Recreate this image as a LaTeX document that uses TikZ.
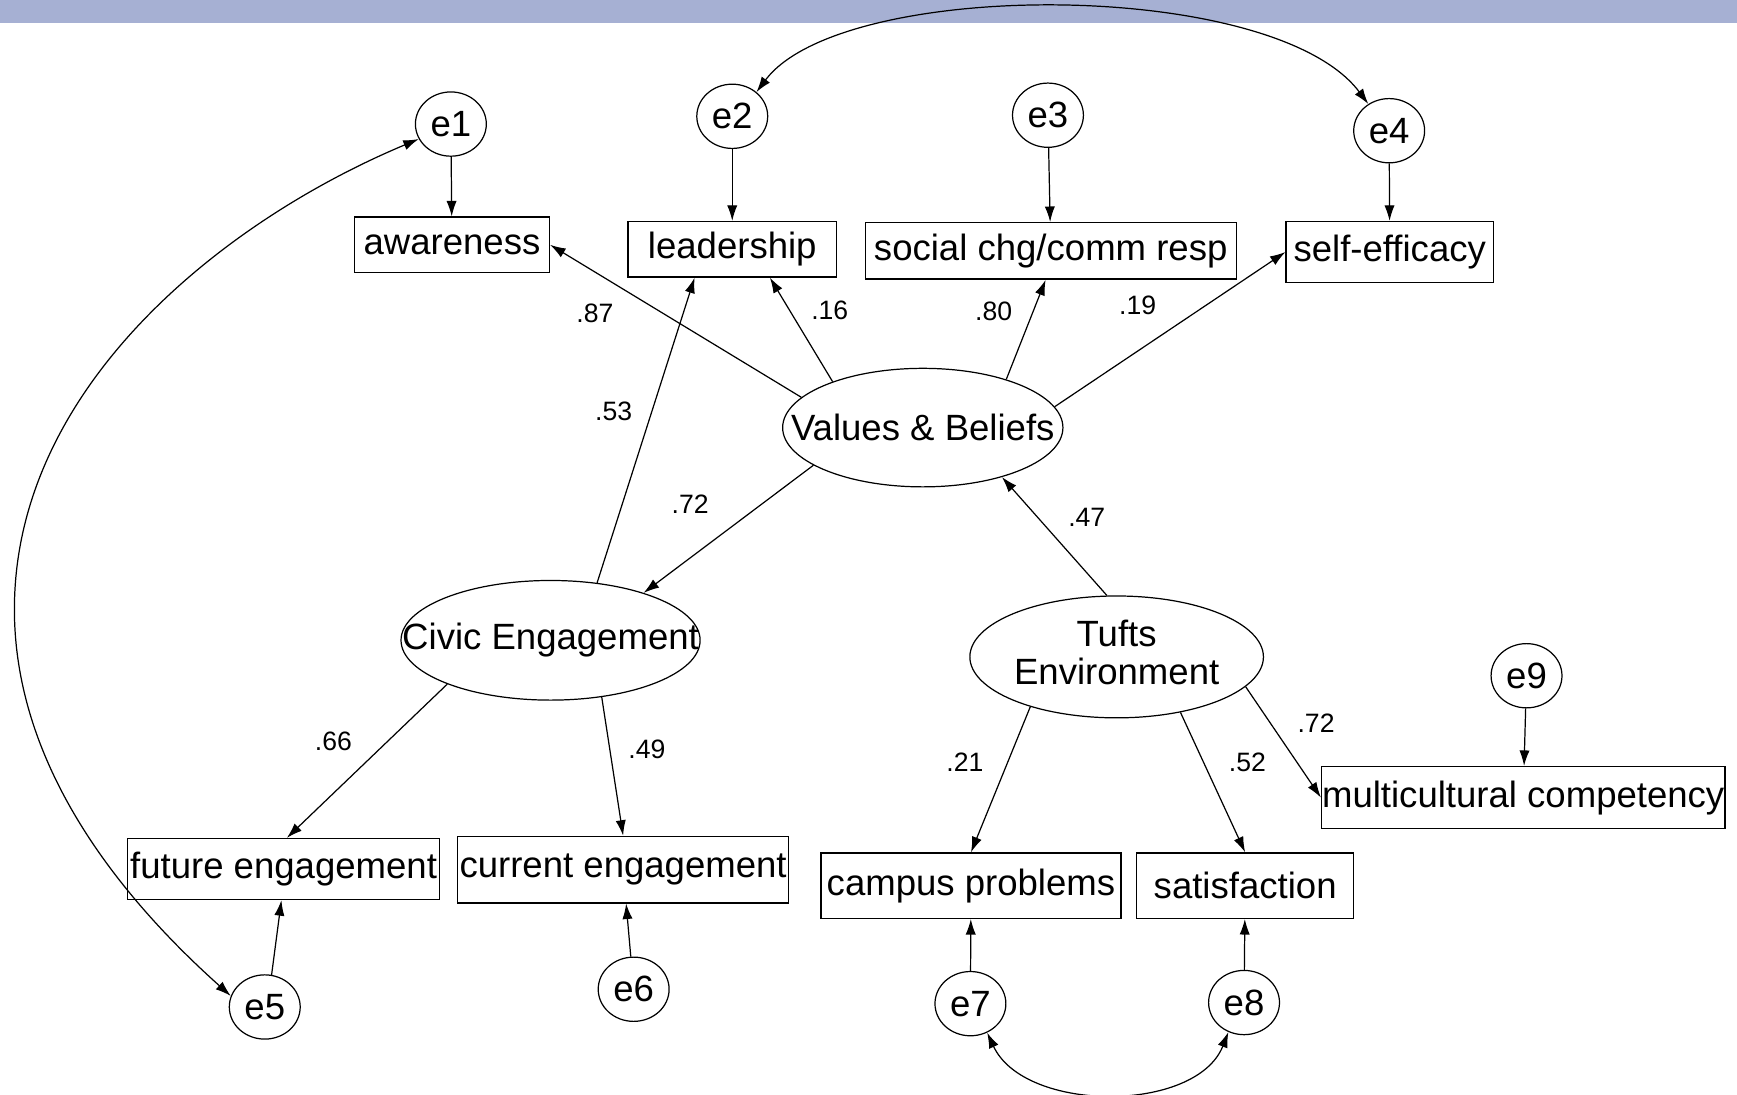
\documentclass[tikz,border=0pt]{standalone}
\usepackage{fontspec}
\setmainfont{Liberation Sans}
\usetikzlibrary{shapes.geometric,arrows.meta}
\definecolor{band}{HTML}{A6B0D3}
\begin{document}
\begin{tikzpicture}[x=0.5pt,y=-0.5pt,
  every node/.style={font=\fontsize{16.5}{19}\selectfont, inner sep=0pt},
  obs/.style={draw, rectangle, line width=0.6pt},
  lat/.style={draw, ellipse, line width=0.55pt},
  err/.style={draw, ellipse, minimum width=32pt, minimum height=29pt, line width=0.55pt},
  coef/.style={font=\fontsize{12}{14}\selectfont},
  arr/.style={-{Latex[length=7pt,width=4.6pt]}, line width=0.55pt},
  dbl/.style={{Latex[length=7pt,width=4.6pt]}-{Latex[length=7pt,width=4.6pt]}, line width=0.55pt}]
\useasboundingbox (0,0) rectangle (1568,988);
\fill[white] (0,0) rectangle (1568,988);
\fill[band] (0,0) rectangle (1568,21);

% observed variables
\node[obs, minimum width=88pt, minimum height=25pt] (aw) at (408,221) {awareness};
\node[obs, minimum width=94pt, minimum height=25pt] (ld) at (661,225) {leadership};
\node[obs, minimum width=167.5pt, minimum height=25.5pt] (soc) at (948.5,226.5) {social chg/comm resp};
\node[obs, minimum width=93.5pt, minimum height=27.5pt] (se) at (1254.5,227.5) {self-efficacy};
\node[obs, minimum width=141pt, minimum height=27.5pt] (fe) at (256,784.5) {future engagement};
\node[obs, minimum width=149.5pt, minimum height=30pt] (ce) at (562.5,785) {current engagement};
\node[obs, minimum width=135.5pt, minimum height=29.5pt] (cp) at (876.5,799.5) {campus problems};
\node[obs, minimum width=98pt, minimum height=29.5pt] (sat) at (1124,799.5) {satisfaction};
\node[obs, minimum width=182pt, minimum height=28pt] (mc) at (1375,720) {multicultural competency};

% latent variables
\node[lat, minimum width=126.5pt, minimum height=53.5pt] (VB) at (833,386) {\makebox[0pt]{Values \& Beliefs}};
\node[lat, minimum width=135pt, minimum height=54pt] (CE) at (497,578) {\makebox[0pt]{Civic Engagement}};
\node[lat, minimum width=132.5pt, minimum height=55pt] (TE) at (1008,593) {\makebox[0pt]{\raisebox{-2pt}{\begin{tabular}{@{}c@{}}Tufts\\[-2pt]Environment\end{tabular}}}};

% error terms
\node[err] (e1) at (407,112) {e1};
\node[err] (e2) at (661,105) {e2};
\node[err] (e3) at (946,104) {e3};
\node[err] (e4) at (1254,118) {e4};
\node[err] (e5) at (239,909) {e5};
\node[err] (e6) at (572,893) {e6};
\node[err] (e7) at (876,906) {e7};
\node[err] (e8) at (1123,905) {e8};
\node[err] (e9) at (1378,610) {e9};

% error arrows
\draw[arr] (e1) -- (aw);
\draw[arr] (e2) -- (ld);
\draw[arr] (e3) -- (soc);
\draw[arr] (e4) -- (se);
\draw[arr] (e9) -- (mc);
\draw[arr] (e5.78) -- (fe.-94);
\draw[arr] (e6) -- (ce);
\draw[arr] (e7) -- (cp);
\draw[arr] (e8) -- (sat);

% structural paths
\draw[arr] (VB.166) -- (aw.east);
\draw[arr] (VB.153) -- (ld.-37);
\draw[arr] (VB.30) -- (soc.-100);
\draw[arr] (VB.9) -- (se.west);
\draw[arr] (CE.51) -- (ld.-143);
\draw[arr] (VB.-161) -- (CE.27);
\draw[arr] (TE.99) -- (VB.-32);
\draw[arr] (CE.-157) -- (fe.84);
\draw[arr] (CE.-48) -- (ce.north);
\draw[arr] (TE.-150) -- (cp.north);
\draw[arr] (TE.-41) -- (sat.north);
\draw[arr] (TE.-13) -- (mc.west);

% covariances
\draw[dbl] (e2.45) .. controls (760,-20) and (1150,-20) .. (e4.128);
\draw[dbl] (e1.205) .. controls (200,200) and (13,350) .. (13,550) .. controls (13,700) and (120,820) .. (e5.162);
\draw[dbl] (e7.-60) .. controls (925,1005) and (1080,1005) .. (e8.-118);

% coefficients
\node[coef] (l1) at (537,283) {.87};
\node[coef] (l2) at (749,280) {.16};
\node[coef] (l3) at (897,281) {.80};
\node[coef] (l4) at (1027,276) {.19};
\node[coef] (l5) at (554,371) {.53};
\node[coef] (l6) at (623,455) {.72};
\node[coef] (l7) at (981,467) {.47};
\node[coef] (l8) at (301,669) {.66};
\node[coef] (l9) at (584,676) {.49};
\node[coef] (l10) at (871,688) {.21};
\node[coef] (l11) at (1126,688) {.52};
\node[coef] (l12) at (1188,653) {.72};
\end{tikzpicture}
\end{document}
